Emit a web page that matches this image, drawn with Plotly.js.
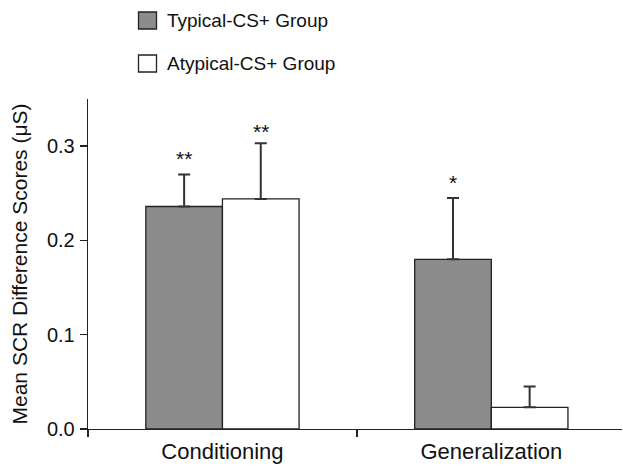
<!DOCTYPE html>
<html>
<head>
<meta charset="utf-8">
<script src="https://cdn.plot.ly/plotly-3.0.1.min.js"></script>
<style>html,body{margin:0;padding:0;background:#fff;}#chart{width:623px;height:471px;}</style>
</head>
<body>
<div id="chart"></div>
<script>
// ---- data ----
const categories = ['Conditioning', 'Generalization'];
const typicalValues = [0.236, 0.180];
const typicalErrors = [0.034, 0.065];
const atypicalValues = [0.244, 0.023];
const atypicalErrors = [0.059, 0.022];
const typicalSig = ['**', '*'];
const atypicalSig = ['**', ''];
const seriesNames = ['Typical-CS+ Group', 'Atypical-CS+ Group'];
const yTickVals = [0, 0.1, 0.2, 0.3];
const yTickText = ['0.0', '0.1', '0.2', '0.3'];

// ---- styling ----
const FONT = '"Liberation Sans", Arial, sans-serif';
const W = 623, H = 471;
const M = {l: 88, r: 1, t: 99, b: 42};
const barW = 0.285;
const outline = {color: '#222', width: 1.3};
const errStyle = (arr) => ({type: 'data', array: arr, symmetric: false, arrayminus: arr.map(() => 0),
  color: '#333', thickness: 2, width: 6});

const traces = [
  {type: 'bar', name: seriesNames[0], x: categories, y: typicalValues,
   marker: {color: '#8c8c8c', line: outline}, error_y: errStyle(typicalErrors), showlegend: false},
  {type: 'bar', name: seriesNames[1], x: categories, y: atypicalValues,
   marker: {color: '#ffffff', line: outline}, error_y: errStyle(atypicalErrors), showlegend: false}
];

const starFont = {family: FONT, size: 21, color: '#111'};
const annotations = [];
categories.forEach((c, i) => {
  if (typicalSig[i]) annotations.push({x: i - barW / 2, y: typicalValues[i] + typicalErrors[i], xref: 'x', yref: 'y',
    text: typicalSig[i], showarrow: false, yanchor: 'bottom', yshift: 2, font: starFont});
  if (atypicalSig[i]) annotations.push({x: i + barW / 2, y: atypicalValues[i] + atypicalErrors[i], xref: 'x', yref: 'y',
    text: atypicalSig[i], showarrow: false, yanchor: 'bottom', yshift: -2, font: starFont});
});

// legend drawn in paper coordinates (pixel helpers)
const pw = W - M.l - M.r, ph = H - M.t - M.b;
const px = (p) => (p - M.l) / pw;
const py = (p) => (H - M.b - p) / ph;
const legendRows = [20.5, 63.5];
const legendFill = ['#8c8c8c', '#ffffff'];
const shapes = [];
seriesNames.forEach((n, i) => {
  const cy = legendRows[i];
  shapes.push({type: 'rect', xref: 'paper', yref: 'paper', x0: px(138.5), x1: px(156.5), y0: py(cy - 8.5), y1: py(cy + 8.5),
    fillcolor: legendFill[i], line: {color: '#222', width: 1.3}});
  annotations.push({xref: 'paper', yref: 'paper', x: px(165), y: py(cy), xanchor: 'left', yanchor: 'middle',
    text: n, showarrow: false, font: {family: FONT, size: 19, color: '#111'}});
});

const layout = {
  width: W, height: H, margin: M,
  paper_bgcolor: '#fff', plot_bgcolor: '#fff',
  barmode: 'group', bargap: 1 - 2 * barW, bargroupgap: 0,
  font: {family: FONT, size: 20, color: '#111'},
  xaxis: {type: 'category', range: [-0.5, 1.486], tickson: 'boundaries', ticks: 'outside', ticklen: 7,
    tickcolor: '#222', tickwidth: 1.3, showline: true, linecolor: '#222', linewidth: 1.3, showgrid: false,
    zeroline: false, tickfont: {family: FONT, size: 22, color: '#111'}, ticklabelstandoff: 2, fixedrange: true},
  yaxis: {range: [0, 0.35], tickvals: yTickVals, ticktext: yTickText, ticks: 'outside', ticklen: 7,
    tickcolor: '#222', tickwidth: 1.3, showline: true, linecolor: '#222', linewidth: 1.3, showgrid: false,
    zeroline: false, tickfont: {family: FONT, size: 20, color: '#111'}, ticklabelstandoff: 1,
    title: {text: 'Mean SCR Difference Scores (μS)', font: {family: FONT, size: 21, color: '#111'}, standoff: 13}},
  shapes: shapes, annotations: annotations, showlegend: false
};

Plotly.newPlot('chart', traces, layout, {displayModeBar: false, staticPlot: true});
</script>
</body>
</html>
